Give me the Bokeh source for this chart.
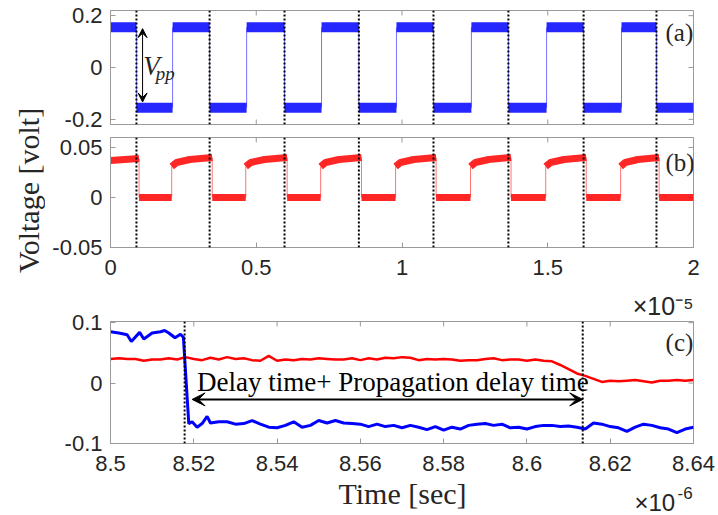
import math
from bokeh.plotting import figure
from bokeh.layouts import column, row
from bokeh.models import Range1d, FixedTicker, Span, Arrow, VeeHead, Label, Title
from bokeh.embed import file_html
from bokeh.resources import INLINE

# ---------------- square-wave records, panels (a) and (b) ----------------
# times in microseconds, levels in volts
blue_fall_us = [0.89, 3.40, 5.97, 8.52, 11.08, 13.65, 16.23, 18.73]
blue_rise_us = [2.13, 4.67, 7.24, 9.81, 12.38, 14.96, 17.53]
blue_first_high_v = [0.155, 0.155]
blue_high_frac = [0.0, 1.0]            # shape of a high plateau (fraction of its length)
blue_high_v = [0.155, 0.155]
blue_low_v = -0.155

red_fall_us = [0.98, 3.49, 6.06, 8.61, 11.17, 13.74, 16.32, 18.82]
red_rise_us = [2.10, 4.64, 7.21, 9.78, 12.35, 14.93, 17.50]
red_first_high_v = [0.037, 0.039]
red_high_frac = [0.0, 0.12, 0.45, 1.0]
red_high_v = [0.031, 0.035, 0.038, 0.040]
red_low_v = 0.0

record_end_us = 20.0

# ---------------- zoomed record, panel (c) ----------------
c_blue_t = [8.500, 8.502, 8.504, 8.505, 8.507, 8.508, 8.510, 8.512, 8.513, 8.514,
            8.5155, 8.5168, 8.5175, 8.5188, 8.5196, 8.5208, 8.522, 8.5232, 8.524, 8.526,
            8.528, 8.530,
            8.532, 8.534, 8.536, 8.538, 8.540, 8.542, 8.544, 8.546, 8.548, 8.550,
            8.552, 8.554, 8.556, 8.558, 8.560, 8.562, 8.564, 8.566, 8.568, 8.570,
            8.572, 8.574, 8.576, 8.578, 8.580, 8.582, 8.584, 8.586, 8.588,
            8.590, 8.592, 8.594, 8.596, 8.598, 8.600, 8.602, 8.604, 8.606, 8.608,
            8.610, 8.612, 8.614, 8.616, 8.618, 8.620, 8.622, 8.624, 8.626, 8.628,
            8.630, 8.632, 8.634, 8.636, 8.638, 8.640]
c_blue_v = [0.085, 0.083, 0.080, 0.069, 0.084, 0.073, 0.083, 0.085, 0.087, 0.083,
            0.075, 0.081, 0.076, -0.067, -0.064, -0.073, -0.067, -0.055, -0.066, -0.064,
            -0.064, -0.068,
            -0.067, -0.062, -0.068, -0.073, -0.074, -0.070, -0.064, -0.073, -0.070, -0.062,
            -0.066, -0.062, -0.066, -0.067, -0.068, -0.072, -0.068, -0.072, -0.070, -0.074,
            -0.070, -0.073, -0.077, -0.072, -0.078, -0.073, -0.076, -0.070, -0.068,
            -0.067, -0.070, -0.068, -0.074, -0.073, -0.076, -0.072, -0.070, -0.070, -0.072,
            -0.071, -0.073, -0.076, -0.066, -0.068, -0.072, -0.074, -0.080, -0.073, -0.068,
            -0.070, -0.074, -0.076, -0.082, -0.076, -0.073]

c_red_t = [8.500, 8.502, 8.504, 8.506, 8.508, 8.510, 8.512, 8.514, 8.516, 8.518,
           8.520, 8.522, 8.524, 8.526, 8.528, 8.530, 8.532, 8.534, 8.536, 8.538,
           8.540, 8.542, 8.544, 8.546, 8.548, 8.550, 8.552, 8.554, 8.556, 8.558,
           8.560, 8.562, 8.564, 8.566, 8.568, 8.570, 8.572, 8.574, 8.576, 8.578,
           8.580, 8.582, 8.584, 8.586, 8.588, 8.590, 8.592, 8.594, 8.596, 8.598,
           8.600, 8.602, 8.604, 8.606, 8.608, 8.610, 8.612, 8.614, 8.616, 8.618,
           8.620, 8.622, 8.624, 8.626, 8.628, 8.630, 8.632, 8.634, 8.636, 8.638,
           8.640]
c_red_v = [0.040, 0.041, 0.040, 0.040, 0.037, 0.039, 0.039, 0.041, 0.039, 0.043,
           0.040, 0.038, 0.042, 0.039, 0.043, 0.040, 0.041, 0.038, 0.037, 0.045,
           0.037, 0.039, 0.038, 0.040, 0.039, 0.041, 0.040, 0.039, 0.039, 0.041,
           0.038, 0.041, 0.039, 0.042, 0.041, 0.043, 0.042, 0.038, 0.040, 0.039,
           0.040, 0.039, 0.037, 0.038, 0.038, 0.040, 0.041, 0.038, 0.039, 0.039,
           0.037, 0.039, 0.037, 0.036, 0.030, 0.023, 0.016, 0.012, 0.007, 0.002,
           0.004, 0.003, 0.004, 0.005, 0.003, 0.001, 0.004, 0.004, 0.005, 0.004,
           0.005]

c_marker_us = [8.5178, 8.6134]   # input edge and output edge
c_arrow_v = -0.027

# ---------------- ticks ----------------
ab_xticks = [0, 5, 10, 15, 20]
ab_xtick_labels = ["0", "0.5", "1", "1.5", "2"]
a_yticks = [-0.2, 0, 0.2]
a_ytick_labels = ["-0.2", "0", "0.2"]
b_yticks = [-0.05, 0, 0.05]
b_ytick_labels = ["-0.05", "0", "0.05"]
c_xticks = [8.5, 8.52, 8.54, 8.56, 8.58, 8.6, 8.62, 8.64]
c_xtick_labels = ["8.5", "8.52", "8.54", "8.56", "8.58", "8.6", "8.62", "8.64"]
c_yticks = [-0.1, 0, 0.1]
c_ytick_labels = ["-0.1", "0", "0.1"]

BLUE = "#0000ff"
RED = "#ff0000"
AXIS_GRAY = "#9a9a9a"
TEXT = "#262626"
SANS = "Liberation Sans"
SERIF = "Liberation Serif"


def style_axis(ax, ticks, labels, standoff=8):
    ax.ticker = FixedTicker(ticks=ticks)
    ax.minor_tick_line_color = None
    ax.major_tick_in = 5
    ax.major_tick_out = 0
    ax.axis_line_color = AXIS_GRAY
    ax.major_tick_line_color = AXIS_GRAY
    ax.major_label_overrides = {t: s for t, s in zip(ticks, labels)}
    ax.major_label_text_font = SANS
    ax.major_label_text_font_size = "22px"
    ax.major_label_text_line_height = 1.0
    ax.major_label_text_color = TEXT
    ax.major_label_standoff = standoff


def make_panel(width, height, x_range, y_range, left, top, bottom, x_axis=True):
    p = figure(width=width, height=height, x_range=x_range, y_range=y_range,
               title=None, output_backend="svg", toolbar_location=None,
               x_axis_location="below" if x_axis else None,
               min_border_left=left, min_border_right=25,
               min_border_top=top, min_border_bottom=bottom)
    p.grid.visible = False
    p.outline_line_color = AXIS_GRAY
    p.border_fill_color = "white"
    return p


def inner_ticks(p, xticks, yticks, bottom=False):
    """Inward tick marks on the frame sides that carry no labels."""
    xr, yr = p.x_range, p.y_range
    tick = dict(marker="dash", size=10, line_color=AXIS_GRAY, line_width=1)
    p.scatter(x=xticks, y=[yr.end] * len(xticks), angle=math.pi / 2, **tick)
    if bottom:
        p.scatter(x=xticks, y=[yr.start] * len(xticks), angle=math.pi / 2, **tick)
    p.scatter(x=[xr.end] * len(yticks), y=yticks, **tick)


def square_wave(p, falls, rises, first_v, frac, high_v, low, color, width):
    # high plateaus: from 0 to the first fall, then from each rise to the next fall
    xs = [[0.0, falls[0]]]
    ys = [list(first_v)]
    for r, f in zip(rises, falls[1:]):
        xs.append([r + q * (f - r) for q in frac])
        ys.append(list(high_v))
    p.multi_line(xs=xs, ys=ys, line_color=color, line_width=width,
                 line_alpha=0.85, line_cap="butt")
    # low plateaus: from each fall to the next rise (or record end)
    ends = rises + [record_end_us]
    p.segment(x0=falls, y0=[low] * len(falls), x1=ends, y1=[low] * len(falls),
              line_color=color, line_width=width, line_alpha=0.85, line_cap="butt")
    # thin edges
    ex = list(falls) + list(rises)
    ey1 = [first_v[1]] + [high_v[-1]] * (len(falls) - 1) + [high_v[0]] * len(rises)
    p.segment(x0=ex, y0=[low] * len(ex), x1=ex, y1=ey1,
              line_color=color, line_width=1, line_alpha=0.55)


def markers(p, locations, width=2):
    for t in locations:
        p.add_layout(Span(location=t, dimension="height", line_color="black",
                          line_dash="2 2", line_width=width))


def text_strip(width, height):
    s = figure(width=width, height=height, x_range=Range1d(0, width),
               y_range=Range1d(0, height), title=None, output_backend="svg",
               toolbar_location=None, x_axis_location=None, y_axis_location=None,
               frame_align=False, min_border_left=0, min_border_right=0,
               min_border_top=0, min_border_bottom=0)
    s.grid.visible = False
    s.outline_line_color = None
    return s


# ---------------- panel (a) ----------------
pa = make_panel(673, 132, Range1d(0, 20), Range1d(-0.22, 0.22), 65, 10, 8, x_axis=False)
style_axis(pa.yaxis[0], a_yticks, a_ytick_labels)
inner_ticks(pa, ab_xticks, a_yticks, bottom=True)
square_wave(pa, blue_fall_us, blue_rise_us, blue_first_high_v, blue_high_frac,
            blue_high_v, blue_low_v, BLUE, 10)
markers(pa, blue_fall_us)
pa.add_layout(Arrow(start=VeeHead(size=9, fill_color="black", line_color="black"),
                    end=VeeHead(size=9, fill_color="black", line_color="black"),
                    x_start=1.10, y_start=-0.133, x_end=1.10, y_end=0.150,
                    line_color="black", line_width=1))
pa.add_layout(Label(x=1.12, y=0.006, text="V", text_font=SERIF, text_font_style="italic",
                    text_font_size="27px", text_color=TEXT, text_baseline="middle"))
pa.add_layout(Label(x=1.55, y=-0.022, text="pp", text_font=SERIF, text_font_style="italic",
                    text_font_size="19px", text_color=TEXT, text_baseline="middle"))
pa.add_layout(Label(x=19.04, y=0.137, text="(a)", text_font=SERIF, text_font_size="25px",
                    text_color=TEXT, text_baseline="middle"))

# ---------------- panel (b) ----------------
pb = make_panel(673, 153, Range1d(0, 20), Range1d(-0.05, 0.06), 65, 5, 38)
style_axis(pb.xaxis[0], ab_xticks, ab_xtick_labels, standoff=12)
style_axis(pb.yaxis[0], b_yticks, b_ytick_labels)
inner_ticks(pb, ab_xticks, b_yticks)
square_wave(pb, red_fall_us, red_rise_us, red_first_high_v, red_high_frac,
            red_high_v, red_low_v, RED, 7)
markers(pb, blue_fall_us)
pb.add_layout(Label(x=19.04, y=0.0355, text="(b)", text_font=SERIF, text_font_size="25px",
                    text_color=TEXT, text_baseline="middle"))

# shared y label of panels (a) and (b)
ylab = text_strip(45, 285)
ylab.add_layout(Label(x=28, y=95, text="Voltage [volt]", angle=90, angle_units="deg",
                      text_font=SERIF, text_font_size="30px", text_color=TEXT,
                      text_align="center", text_baseline="middle"))

# ---------------- panel (c) ----------------
pc = make_panel(718, 193, Range1d(8.5, 8.64), Range1d(-0.1, 0.102), 110, 36, 35)
style_axis(pc.xaxis[0], c_xticks, c_xtick_labels, standoff=12)
style_axis(pc.yaxis[0], c_yticks, c_ytick_labels)
inner_ticks(pc, c_xticks, c_yticks)
# exponent of the (a)/(b) time axis sits in the band above panel (c)
pc.add_layout(Title(text="\u00d710\u207b\u2075", align="right", text_font=SANS,
                    text_font_size="25px", text_font_style="normal", text_color=TEXT,
                    text_line_height=1.0, standoff=3), "above")
pc.line(c_red_t, c_red_v, line_color=RED, line_width=2.5)
pc.line(c_blue_t, c_blue_v, line_color=BLUE, line_width=3)
markers(pc, c_marker_us, width=2)
pc.add_layout(Arrow(start=VeeHead(size=13, fill_color="black", line_color="black"),
                    end=VeeHead(size=13, fill_color="black", line_color="black"),
                    x_start=8.5196, y_start=c_arrow_v, x_end=c_marker_us[1], y_end=c_arrow_v,
                    line_color="black", line_width=2))
pc.add_layout(Label(x=8.5208, y=0.0013, text="Delay time+ Propagation delay time",
                    text_font=SERIF, text_font_size="27px", text_color="black",
                    text_baseline="middle"))
pc.add_layout(Label(x=8.6333, y=0.068, text="(c)", text_font=SERIF, text_font_size="25px",
                    text_color=TEXT, text_baseline="middle"))

# x label and exponent of panel (c)
xlab = text_strip(718, 37)
xlab.add_layout(Label(x=402, y=22.5, text="Time [sec]", text_font=SERIF,
                      text_font_size="30px", text_color=TEXT, text_align="center",
                      text_baseline="middle"))
xlab.add_layout(Label(x=634, y=13.5, text="\u00d710", text_font=SANS, text_font_size="24px",
                      text_color=TEXT, text_baseline="middle"))
xlab.add_layout(Label(x=677, y=23, text="-6", text_font=SANS, text_font_size="17px",
                      text_color=TEXT, text_baseline="middle"))

layout = column(row(ylab, column(pa, pb, spacing=0), spacing=0), pc, xlab, spacing=0)
open("out.html", "w").write(file_html(layout, INLINE))
